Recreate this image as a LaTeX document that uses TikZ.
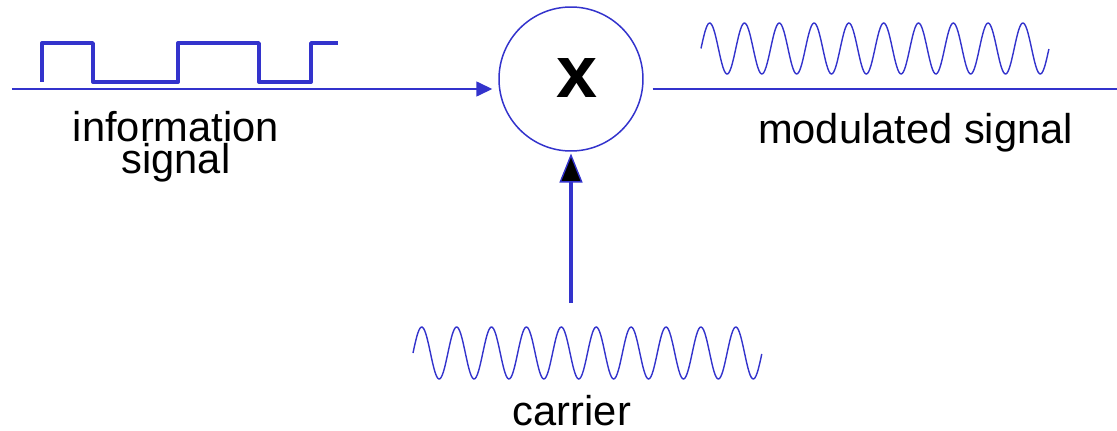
\documentclass[tikz,border=0pt]{standalone}
\usepackage{fontspec}
\setmainfont{Liberation Sans}
\usetikzlibrary{arrows.meta, positioning, calc}
\definecolor{sigblue}{RGB}{51, 51, 204}

\begin{document}
\begin{tikzpicture}[
    mixer/.style={draw=sigblue, circle, line width=0.85pt, minimum size=2.88cm,
                  inner sep=0pt},
    sym/.style={font=\fontsize{42}{42}\selectfont\bfseries, inner sep=0pt},
    wire/.style={draw=sigblue, line width=0.9pt},
    arr/.style={-{Triangle[length=0.32cm, width=0.3cm]}, sigblue, line width=0.9pt},
    carr/.style={-{Triangle[length=0.58cm, width=0.46cm, fill=black,
                 line width=0.8pt]}, sigblue, line width=2pt},
    wave/.style={draw=sigblue, line width=0.8pt},
    bits/.style={draw=sigblue, line width=2.2pt, line join=round},
    lbl/.style={font=\fontsize{23.7}{14.2}\selectfont, align=center,
                inner sep=0pt}
]
\useasboundingbox (-11.42,1.58) rectangle (10.92,-7.02);

\node[mixer] (mult) at (0,0) {};
\node[sym] (times) at ([xshift=0.12cm, yshift=0.02cm]mult.center) {x};

% input and output lines
\coordinate (inL) at (-11.18,-0.2);
\coordinate (outR) at (10.92,-0.2);
\coordinate (carB) at (0,-4.48);

\draw[arr, shorten >=3.4pt] (inL) -- (inL -| mult.west);
\draw[wire] ([xshift=5pt]mult.east |- outR) -- (outR);
\draw[carr, shorten >=1pt] (carB) -- (mult.south);

% information signal
\draw[bits] (-10.58,-0.06) -- (-10.58,0.72) -- (-9.56,0.72) -- (-9.56,-0.06)
    -- (-7.86,-0.06) -- (-7.86,0.72) -- (-6.24,0.72) -- (-6.24,-0.06)
    -- (-5.2,-0.06) -- (-5.2,0.72) -- (-4.66,0.72);

% modulated signal and carrier
\draw[wave] plot[domain=2.6:9.56, samples=300, smooth]
    (\x, {0.61+0.51*sin(517.24*(\x-2.6))});
\draw[wave] plot[domain=-3.16:3.82, samples=300, smooth]
    (\x, {-5.48+0.52*sin(515.76*(\x+3.16))});

\node[lbl] (infolbl) at (-7.9,-1.35) {information\\signal};
\node[lbl, anchor=base] (modlbl) at (6.89,-1.28) {modulated signal};
\node[lbl, anchor=base] (carlbl) at (0.02,-6.92) {carrier};

\end{tikzpicture}
\end{document}
